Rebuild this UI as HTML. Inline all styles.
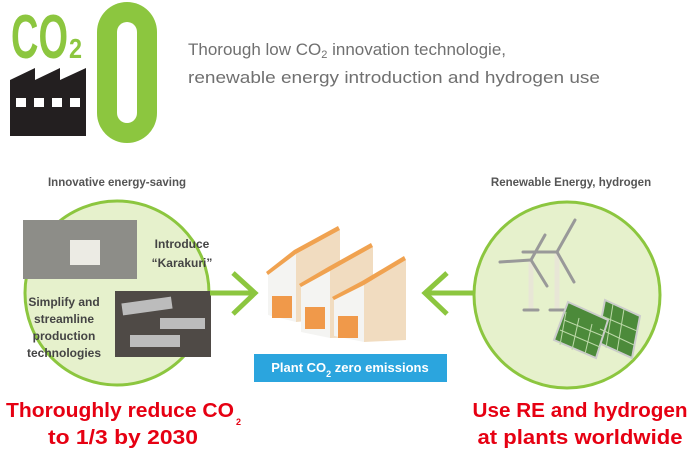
<!DOCTYPE html>
<html><head><meta charset="utf-8"><style>
html,body{margin:0;padding:0;background:#fff;}
svg{display:block;}
text{font-family:"Liberation Sans",Arial,sans-serif;}
</style></head><body>
<svg width="688" height="452" viewBox="0 0 688 452" xmlns="http://www.w3.org/2000/svg">
<!-- CO2 -->
<text x="11" y="58" font-size="62" font-weight="bold" fill="#8cc63f" textLength="57" lengthAdjust="spacingAndGlyphs">CO</text>
<text x="69" y="58" font-size="28" font-weight="bold" fill="#8cc63f" textLength="13" lengthAdjust="spacingAndGlyphs">2</text>
<!-- factory -->
<path d="M10 80 L35 68 L35 80 L60 68 L60 80 L86 68 L86 136 L10 136 Z" fill="#231f20"/>
<rect x="16" y="98" width="10" height="9" fill="#fff"/>
<rect x="34" y="98" width="10" height="9" fill="#fff"/>
<rect x="52" y="98" width="10" height="9" fill="#fff"/>
<rect x="70" y="98" width="10" height="9" fill="#fff"/>
<!-- big 0 -->
<rect x="97" y="2" width="60" height="141" rx="30" fill="#8cc63f"/>
<rect x="117" y="22" width="20" height="101" rx="10" fill="#fff"/>
<!-- header text -->
<text x="188" y="55" font-size="17" fill="#707070">Thorough low CO<tspan font-size="11" dy="3">2</tspan><tspan dy="-3"> innovation technologie,</tspan></text>
<text x="188" y="83" font-size="17" fill="#707070" textLength="412" lengthAdjust="spacingAndGlyphs">renewable energy introduction and hydrogen use</text>
<!-- labels -->
<text x="117" y="186" font-size="11.5" font-weight="bold" fill="#555" text-anchor="middle">Innovative energy-saving</text>
<text x="571" y="186" font-size="11.5" font-weight="bold" fill="#555" text-anchor="middle">Renewable Energy, hydrogen</text>
<!-- left circle -->
<circle cx="117" cy="293" r="92" fill="#e6f1cc" stroke="#8cc63f" stroke-width="3"/>
<rect x="23" y="220" width="114" height="59" fill="#8d8d88"/>
<rect x="70" y="240" width="30" height="25" fill="#ecebe4"/>
<rect x="115" y="291" width="96" height="66" fill="#4f4a46"/>
<rect x="122" y="300" width="50" height="12" fill="#bcbcbc" transform="rotate(-8 147 306)"/>
<rect x="160" y="318" width="45" height="11" fill="#bcbcbc"/>
<rect x="130" y="335" width="50" height="12" fill="#bcbcbc"/>
<text x="182" y="248" font-size="12" font-weight="bold" fill="#444" text-anchor="middle">Introduce</text>
<text x="182" y="267" font-size="12" font-weight="bold" fill="#444" text-anchor="middle">“Karakuri”</text>
<g font-size="12" font-weight="bold" fill="#444" text-anchor="middle">
<text x="64" y="306">Simplify and</text>
<text x="64" y="323">streamline</text>
<text x="64" y="340">production</text>
<text x="64" y="357">technologies</text>
</g>
<!-- arrows -->
<g stroke="#8cc63f" stroke-width="5" fill="none" stroke-linecap="butt">
<line x1="210" y1="293" x2="254" y2="293"/>
<polyline points="233,273 255,293 233,314"/>
<line x1="476" y1="293" x2="426" y2="293"/>
<polyline points="447,273 425,293 447,314"/>
</g>
<!-- plant -->
<g>
<polygon points="296,254 340,230 340,318 296,322" fill="#f1dcc0"/>
<polygon points="268,275 296,254 296,322 268,315" fill="#f4f4f2"/>
<polygon points="268,275 296,254 340,230 338,226 294,250 266,272" fill="#f0a250"/>
<rect x="272" y="296" width="20" height="22" fill="#f0994a"/>
<polygon points="330,271 373,247 373,337 330,338" fill="#f1dcc0"/>
<polygon points="301,287 330,271 330,338 301,332" fill="#f4f4f2"/>
<polygon points="301,287 330,271 373,247 371,243 328,267 299,284" fill="#f0a250"/>
<rect x="305" y="307" width="20" height="22" fill="#f0994a"/>
<polygon points="364,285 406,260 406,340 364,342" fill="#f1dcc0"/>
<polygon points="334,300 364,285 364,342 334,336" fill="#f4f4f2"/>
<polygon points="334,300 364,285 406,260 404,256 362,281 332,297" fill="#f0a250"/>
<rect x="338" y="316" width="20" height="22" fill="#f0994a"/>
</g>
<rect x="254" y="354" width="193" height="28" fill="#2ba5de"/>
<text x="350" y="372" font-size="13" font-weight="bold" fill="#fff" text-anchor="middle">Plant CO<tspan font-size="9" dy="5">2</tspan><tspan dy="-5"> zero emissions</tspan></text>
<!-- right circle -->
<circle cx="567" cy="295" r="93" fill="#e6f1cc" stroke="#8cc63f" stroke-width="3"/>
<g fill="none">
<line x1="531" y1="260" x2="531" y2="310" stroke="#e8e6d6" stroke-width="5"/>
<line x1="557" y1="252" x2="557" y2="310" stroke="#e8e6d6" stroke-width="5"/>
<g stroke="#999" stroke-width="3" stroke-linecap="round">
<line x1="531" y1="260" x2="500" y2="262"/><line x1="531" y1="260" x2="545" y2="235"/><line x1="531" y1="260" x2="547" y2="286"/>
<line x1="557" y1="252" x2="575" y2="220"/><line x1="557" y1="252" x2="523" y2="252"/><line x1="557" y1="252" x2="574" y2="282"/>
<line x1="524" y1="310" x2="538" y2="310"/><line x1="550" y1="310" x2="564" y2="310"/>
</g>
</g>
<g fill="#4c8a3a" stroke="#ccc" stroke-width="2">
<polygon points="605,300 640,316 632,358 597,342"/>
<polygon points="568,302 608,320 596,358 554,340"/>
</g>
<g stroke="#bcd9a8" stroke-width="1">
<line x1="566" y1="312" x2="560" y2="345"/><line x1="579" y1="318" x2="572" y2="350"/><line x1="592" y1="324" x2="585" y2="354"/>
<line x1="564" y1="320" x2="603" y2="336"/><line x1="560" y1="330" x2="600" y2="347"/>
<line x1="613" y1="304" x2="606" y2="348"/><line x1="624" y1="309" x2="617" y2="352"/>
<line x1="602" y1="316" x2="637" y2="331"/><line x1="600" y1="329" x2="634" y2="345"/>
</g>
<!-- bottom red -->
<g font-size="20" font-weight="bold" fill="#e60012" text-anchor="middle">
<text x="120" y="417" textLength="228" lengthAdjust="spacingAndGlyphs">Thoroughly reduce CO</text>
<text x="123" y="444" textLength="150" lengthAdjust="spacingAndGlyphs">to 1/3 by 2030</text>
<text x="580" y="417" textLength="215" lengthAdjust="spacingAndGlyphs">Use RE and hydrogen</text>
<text x="580" y="444" textLength="205" lengthAdjust="spacingAndGlyphs">at plants worldwide</text>
</g>
<text x="236" y="425" font-size="9" font-weight="bold" fill="#e60012">2</text>
</svg>
</body></html>
